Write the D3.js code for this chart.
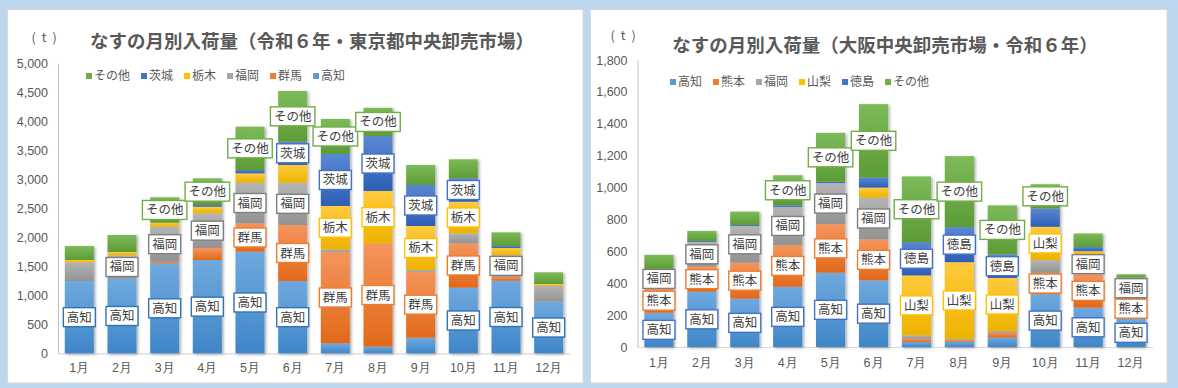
<!DOCTYPE html>
<html><head><meta charset="utf-8">
<script src="https://cdn.jsdelivr.net/npm/d3@7"></script>
<style>
body{margin:0;background:#bdd7ee;}
svg{display:block;font-family:"Noto Sans CJK JP","Noto Sans",sans-serif;}
</style>
</head><body>
<svg id="c" width="1178" height="388"></svg>
<script>
// ---------- DATA ----------
const months = ["1月","2月","3月","4月","5月","6月","7月","8月","9月","10月","11月","12月"];

// Tokyo (stack order bottom -> top)
const tokyoSeries = ["高知","群馬","福岡","栃木","茨城","その他"];
const tokyoKochi  = [1245,1285,1550,1607,1750,1245, 172, 114, 269,1130,1250, 889];
const tokyoGunma  = [   0,   0,  28, 207, 489, 965,1578,1780,1137, 765,  69,   0];
const tokyoFukuoka= [ 322, 403, 603, 597, 699, 729,  41,   0,  29, 172, 373, 276];
const tokyoTochigi= [  40,  57,  69, 114, 162, 305, 746, 901, 758, 544, 121,  29];
const tokyoIbaraki= [   0,   0,   0,  29,  57, 401, 896, 947, 706, 403,  34,   0];
const tokyoOther  = [ 241, 292, 437, 460, 746, 873, 603, 486, 344, 327, 236, 201];
const tokyoTicks  = [0,500,1000,1500,2000,2500,3000,3500,4000,4500,5000];
const tokyoLegendOrder = ["その他","茨城","栃木","福岡","群馬","高知"];

// Osaka (stack order bottom -> top)
const osakaSeries = ["高知","熊本","福岡","山梨","徳島","その他"];
const osakaKochi    = [215,347,303,378,466,418, 31, 31, 59,331,247,178];
const osakaKumamoto = [151,157,226,261,305,257, 21, 10, 31,134,210,125];
const osakaFukuoka  = [122,155,230,240,257,262, 21, 10, 10, 80,125,132];
const osakaYamanashi= [  0,  0,  0,  0,  0, 63,376,481,333,209, 19,  0];
const osakaTokushima= [  0,  6,  6, 10,  8, 63,209,220,148,115, 27,  0];
const osakaOther    = [ 90, 63, 84,188,307,460,412,445,307,152, 84, 21];
const osakaTicks    = [0,200,400,600,800,1000,1200,1400,1600,1800];
const osakaLegendOrder = ["高知","熊本","福岡","山梨","徳島","その他"];

const tokyoTitle = "なすの月別入荷量（令和６年・東京都中央卸売市場）";
const osakaTitle = "なすの月別入荷量（大阪中央卸売市場・令和６年）";
const unitParts = ["(","t",")"];

// ---------- STYLE ----------
const grads = [
  ["#6fa9de","#3f86c8"], // blue
  ["#f4955d","#e2691a"], // orange
  ["#b4b4b4","#939393"], // grey
  ["#ffca3c","#eeb300"], // gold
  ["#5a87d3","#2e5fb6"], // dark blue
  ["#7dba5a","#5c9c35"]  // green
];
const legendColors = ["#5b9bd5","#ed7d31","#a5a5a5","#ffc000","#4472c4","#70ad47"];

const svg = d3.select("#c");
const defs = svg.append("defs");
grads.forEach((g,i)=>{
  const lg = defs.append("linearGradient").attr("id","g"+i).attr("x1",0).attr("y1",0).attr("x2",0).attr("y2",1);
  lg.append("stop").attr("offset","0%").attr("stop-color",g[0]);
  lg.append("stop").attr("offset","100%").attr("stop-color",g[1]);
});
const f = defs.append("filter").attr("id","sh").attr("x","-20%").attr("y","-10%").attr("width","140%").attr("height","120%");
f.append("feDropShadow").attr("dx",1.5).attr("dy",1).attr("stdDeviation",1.8).attr("flood-color","#000").attr("flood-opacity",0.35);

function drawChart(cfg){
  const g = svg.append("g");
  // panel
  g.append("rect").attr("x",cfg.panel[0]).attr("y",cfg.panel[1]).attr("width",cfg.panel[2]).attr("height",cfg.panel[3])
    .attr("fill","#fff").attr("stroke","#d9d9d9").attr("stroke-width",1);
  // title
  g.append("text").attr("x",cfg.titleX).attr("y",cfg.titleY).attr("text-anchor","middle")
    .attr("font-size",18.5).attr("font-weight","bold").attr("fill","#595959").text(cfg.title);
  // unit
  const ut = g.append("text").attr("y",cfg.unitY).attr("text-anchor","middle")
    .attr("font-size",12.5).attr("fill","#595959");
  unitParts.forEach((p,k)=>{ ut.append("tspan").attr("x",cfg.unitX+(k-1)*10.5).text(p); });

  const x = d3.scaleBand().domain(months).range([cfg.x0,cfg.x1]).paddingInner(0.32).paddingOuter(0.16);
  const y = d3.scaleLinear().domain([0,cfg.ticks[cfg.ticks.length-1]]).range([cfg.y0,cfg.y1]);

  // data table
  const rows = months.map((m,j)=>{
    const r = {month:m};
    cfg.series.forEach((s,i)=>{ r[s] = cfg.values[i][j]; });
    return r;
  });
  const stack = d3.stack().keys(cfg.series)(rows);

  // axes
  const ya = g.append("g").attr("transform",`translate(${cfg.x0},0)`)
    .call(d3.axisLeft(y).tickValues(cfg.ticks).tickSize(0).tickSizeOuter(0).tickPadding(10).tickFormat(d3.format(",")));
  ya.select(".domain").attr("stroke","#bfbfbf");
  ya.selectAll("text").attr("font-size",12.5).attr("fill","#595959").attr("font-family","inherit");

  const xa = g.append("g").attr("transform",`translate(0,${cfg.y0})`)
    .call(d3.axisBottom(x).tickSize(0).tickSizeOuter(0).tickPadding(cfg.xPad));
  xa.select(".domain").attr("stroke","#d9d9d9").attr("stroke-width",1.2);
  xa.selectAll("text").attr("font-size",12.5).attr("fill","#595959").attr("font-family","inherit");

  // bars
  const bars = g.append("g").attr("filter","url(#sh)");
  stack.forEach((layer,i)=>{
    bars.selectAll(null).data(layer.filter(d=>d[1]-d[0]>0)).enter().append("rect")
      .attr("x",d=>x(d.data.month)).attr("width",x.bandwidth())
      .attr("y",d=>y(d[1])).attr("height",d=>y(d[0])-y(d[1]))
      .attr("fill",`url(#g${i})`);
  });

  // data labels
  const lab = g.append("g");
  stack.forEach((layer,i)=>{
    layer.forEach(d=>{
      if (d[1]-d[0] < cfg.threshold) return;
      const cx = x(d.data.month)+x.bandwidth()/2;
      const cy = (y(d[0])+y(d[1]))/2;
      const t = lab.append("text").attr("x",cx).attr("y",cy).attr("dy","0.36em").attr("text-anchor","middle")
        .attr("font-size",12.5).attr("fill","#404040").text(cfg.series[i]);
      const w = t.node().getComputedTextLength()+7;
      lab.insert("rect","text").attr("x",cx-w/2).attr("y",cy-9.5).attr("width",w).attr("height",19)
        .attr("fill","#fff").attr("stroke",cfg.labelStroke[i]).attr("stroke-width",1.4);
    });
  });
  lab.selectAll("text").raise();

  // legend
  let lx = cfg.legendX;
  cfg.legendOrder.forEach(name=>{
    const i = cfg.series.indexOf(name);
    g.append("rect").attr("x",lx).attr("y",cfg.legendY-3).attr("width",6).attr("height",6).attr("fill",legendColors[i]);
    const t = g.append("text").attr("x",lx+8).attr("y",cfg.legendY).attr("dy","0.36em")
      .attr("font-size",12).attr("fill","#595959").text(name);
    lx += 8 + t.node().getComputedTextLength() + 11;
  });
}

drawChart({
  panel:[7.5,9.5,575.5,373.5],
  title:tokyoTitle, titleX:312, titleY:48,
  unitX:44, unitY:42,
  x0:58, x1:570, y0:353.3, y1:63,
  ticks:tokyoTicks, xPad:10,
  series:tokyoSeries,
  values:[tokyoKochi,tokyoGunma,tokyoFukuoka,tokyoTochigi,tokyoIbaraki,tokyoOther],
  threshold:355,
  labelStroke:["#2e75b6","#ed7d31","#7f7f7f","#ffc000","#4472c4","#70ad47"],
  legendOrder:tokyoLegendOrder, legendX:86, legendY:76
});
drawChart({
  panel:[590.5,9.5,576.5,373.5],
  title:osakaTitle, titleX:885, titleY:52,
  unitX:623, unitY:40,
  x0:637.5, x1:1152.5, y0:347, y1:60,
  ticks:osakaTicks, xPad:11,
  series:osakaSeries,
  values:[osakaKochi,osakaKumamoto,osakaFukuoka,osakaYamanashi,osakaTokushima,osakaOther],
  threshold:120,
  labelStroke:["#4472c4","#ed7d31","#7f7f7f","#ffc000","#4472c4","#70ad47"],
  legendOrder:osakaLegendOrder, legendX:670, legendY:82
});
</script>
</body></html>
